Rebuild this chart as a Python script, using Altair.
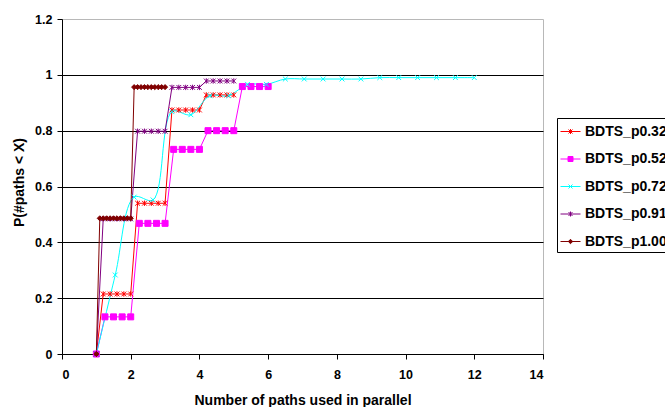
import altair as alt
import pandas as pd

series_names = ["BDTS_p0.32", "BDTS_p0.52", "BDTS_p0.72", "BDTS_p0.91", "BDTS_p1.00"]
series_colors = ["#ff0000", "#ff00ff", "#00ffff", "#800080", "#800000"]

x_p032 = [1.0, 1.2, 1.4, 1.6, 1.8, 2.0, 2.2, 2.4, 2.6, 2.8, 3.0,
          3.2, 3.4, 3.6, 3.8, 4.0, 4.2, 4.4, 4.6, 4.8, 5.0]
y_p032 = [0.0, 0.215, 0.215, 0.215, 0.215, 0.215, 0.54, 0.54, 0.54, 0.54, 0.54,
          0.874, 0.874, 0.874, 0.874, 0.874, 0.928, 0.928, 0.928, 0.928, 0.928]

x_p052 = [1.0, 1.25, 1.5, 1.75, 2.0, 2.25, 2.5, 2.75, 3.0, 3.25, 3.5, 3.75, 4.0,
          4.25, 4.5, 4.75, 5.0, 5.25, 5.5, 5.75, 6.0]
y_p052 = [0.0, 0.133, 0.133, 0.133, 0.133, 0.468, 0.468, 0.468, 0.468,
          0.733, 0.733, 0.733, 0.733, 0.80, 0.80, 0.80, 0.80, 0.958, 0.958, 0.958, 0.958]

x_p072 = [1.0, 1.55, 2.1, 2.65, 3.2, 3.75, 4.3, 4.85, 5.4, 5.95, 6.5, 7.05, 7.6,
          8.15, 8.7, 9.25, 9.8, 10.35, 10.9, 11.45, 12.0]
y_p072 = [0.0, 0.283, 0.562, 0.552, 0.868, 0.857, 0.925, 0.925, 0.966, 0.966, 0.985,
          0.985, 0.985, 0.985, 0.985, 0.99, 0.99, 0.99, 0.99, 0.99, 0.99]

x_p091 = [1.0, 1.2, 1.4, 1.6, 1.8, 2.0, 2.2, 2.4, 2.6, 2.8, 3.0,
          3.2, 3.4, 3.6, 3.8, 4.0, 4.2, 4.4, 4.6, 4.8, 5.0]
y_p091 = [0.0, 0.484, 0.484, 0.484, 0.484, 0.484, 0.798, 0.798, 0.798, 0.798, 0.798,
          0.955, 0.955, 0.955, 0.955, 0.955, 0.978, 0.978, 0.978, 0.978, 0.978]

x_p100 = [1.0, 1.1, 1.2, 1.3, 1.4, 1.5, 1.6, 1.7, 1.8, 1.9, 2.0,
          2.1, 2.2, 2.3, 2.4, 2.5, 2.6, 2.7, 2.8, 2.9, 3.0]
y_p100 = [0.0, 0.486, 0.486, 0.486, 0.486, 0.486, 0.486, 0.486, 0.486, 0.486, 0.486,
          0.956, 0.956, 0.956, 0.956, 0.956, 0.956, 0.956, 0.956, 0.956, 0.956]

x_ticks = [0, 2, 4, 6, 8, 10, 12, 14]
y_ticks = [0, 0.2, 0.4, 0.6, 0.8, 1.0, 1.2]

# marker glyphs (chart) and legend glyphs (line + marker)
marker_paths = [
    "M-0.8,-0.8L0.8,0.8M-0.8,0.8L0.8,-0.8M0,-0.9V0.9",
    "M-1,-1H1V1H-1Z",
    "M-0.8,-0.8L0.8,0.8M-0.8,0.8L0.8,-0.8",
    "M-0.8,-0.8L0.8,0.8M-0.8,0.8L0.8,-0.8M0,-0.9V0.9",
    "M0,-0.85L0.85,0L0,0.85L-0.85,0Z",
]
legend_paths = [
    "M-1,0H1M-0.2,-0.2L0.2,0.2M-0.2,0.2L0.2,-0.2M0,-0.25V0.25",
    "M-1,0H1M-0.25,-0.25H0.25V0.25H-0.25Z",
    "M-1,0H1M-0.2,-0.2L0.2,0.2M-0.2,0.2L0.2,-0.2",
    "M-1,0H1M-0.2,-0.2L0.2,0.2M-0.2,0.2L0.2,-0.2M0,-0.25V0.25",
    "M-1,0H1M0,-0.22L0.22,0L0,0.22L-0.22,0Z",
]

rows = []
for name, xs, ys in zip(series_names,
                        [x_p032, x_p052, x_p072, x_p091, x_p100],
                        [y_p032, y_p052, y_p072, y_p091, y_p100]):
    for xv, yv in zip(xs, ys):
        rows.append({"series": name, "x": xv, "y": yv})
df = pd.DataFrame(rows)

FONT = "Liberation Sans"

x_enc = alt.X("x:Q", scale=alt.Scale(domain=[0, 14], nice=False, zero=False),
              axis=alt.Axis(values=x_ticks, format="d", grid=False,
                            title="Number of paths used in parallel",
                            titleY=50, titleBaseline="alphabetic",
                            labelPadding=9))
y_enc = alt.Y("y:Q", scale=alt.Scale(domain=[0, 1.2], nice=False, zero=False),
              axis=alt.Axis(values=y_ticks, format="~g", grid=True,
                            gridColor={"condition": {"test": "datum.value > 1.1", "value": "transparent"},
                                       "value": "#000000"},
                            title="P(#paths < X)", titleX=-43, titleY=163,
                            titleAngle=270, titleBaseline="middle", titleAlign="center",
                            labelPadding=5))


def color_scale():
    return alt.Scale(domain=series_names, range=series_colors)


legend_def = alt.Legend(
    title=None, orient="none", legendX=495, legendY=99,
    strokeColor="#000000", fillColor="#ffffff", padding=3,
    labelFont=FONT, labelFontWeight="bold", labelFontSize=14,
    labelColor="#000000", labelOffset=4, rowPadding=9.5, labelLimit=300,
    symbolSize=400, symbolStrokeWidth=1, symbolOpacity=1,
)

base = alt.Chart(df)

lines_a = base.transform_filter(
    alt.FieldOneOfPredicate(field="series", oneOf=["BDTS_p0.32", "BDTS_p0.52"])
).mark_line(strokeWidth=1).encode(
    x=x_enc, y=y_enc,
    stroke=alt.Stroke("series:N", scale=color_scale(), legend=None),
)
lines_c = base.transform_filter(alt.datum.series == "BDTS_p0.72").mark_line(
    strokeWidth=1, interpolate="catmull-rom"
).encode(
    x=x_enc, y=y_enc,
    stroke=alt.Stroke("series:N", scale=color_scale(), legend=None),
)
lines_b = base.transform_filter(
    alt.FieldOneOfPredicate(field="series", oneOf=["BDTS_p0.91", "BDTS_p1.00"])
).mark_line(strokeWidth=1).encode(
    x=x_enc, y=y_enc,
    stroke=alt.Stroke("series:N", scale=color_scale(), legend=None),
)

points = base.mark_point(filled=True, opacity=1, size=36, strokeWidth=1).encode(
    x=x_enc, y=y_enc,
    fill=alt.Fill("series:N", scale=color_scale(), legend=None),
    stroke=alt.Stroke("series:N", scale=color_scale(), legend=None),
    shape=alt.Shape("series:N", scale=alt.Scale(domain=series_names, range=marker_paths), legend=None),
)

legend_layer = base.transform_filter("false").mark_point(
    filled=True, opacity=1, size=400, strokeWidth=1
).encode(
    x=x_enc, y=y_enc,
    fill=alt.Fill("series:N", scale=color_scale(), legend=legend_def),
    stroke=alt.Stroke("series:N", scale=color_scale(), legend=legend_def),
    shape=alt.Shape("series:N", scale=alt.Scale(domain=series_names, range=legend_paths),
                    legend=legend_def),
)

chart = alt.layer(lines_a, lines_c, lines_b, points, legend_layer).resolve_scale(
    shape="independent", fill="independent", stroke="independent"
).properties(
    width=481, height=335,
    padding={"left": 62, "top": 19, "right": 122, "bottom": 53},
    autosize=alt.AutoSizeParams(type="none"),
    background="#ffffff",
).configure_view(
    stroke="#b8b8b8", strokeWidth=1
).configure_axis(
    domainColor="#000000", domainWidth=1, tickColor="#000000", tickSize=5, tickWidth=1,
    labelFont=FONT, labelFontWeight="bold", labelFontSize=12.5, labelColor="#000000",
    titleFont=FONT, titleFontWeight="bold", titleFontSize=14, titleColor="#000000",
    gridWidth=1,
)

chart.save("out.html", embed_options={"renderer": "svg", "actions": False})
